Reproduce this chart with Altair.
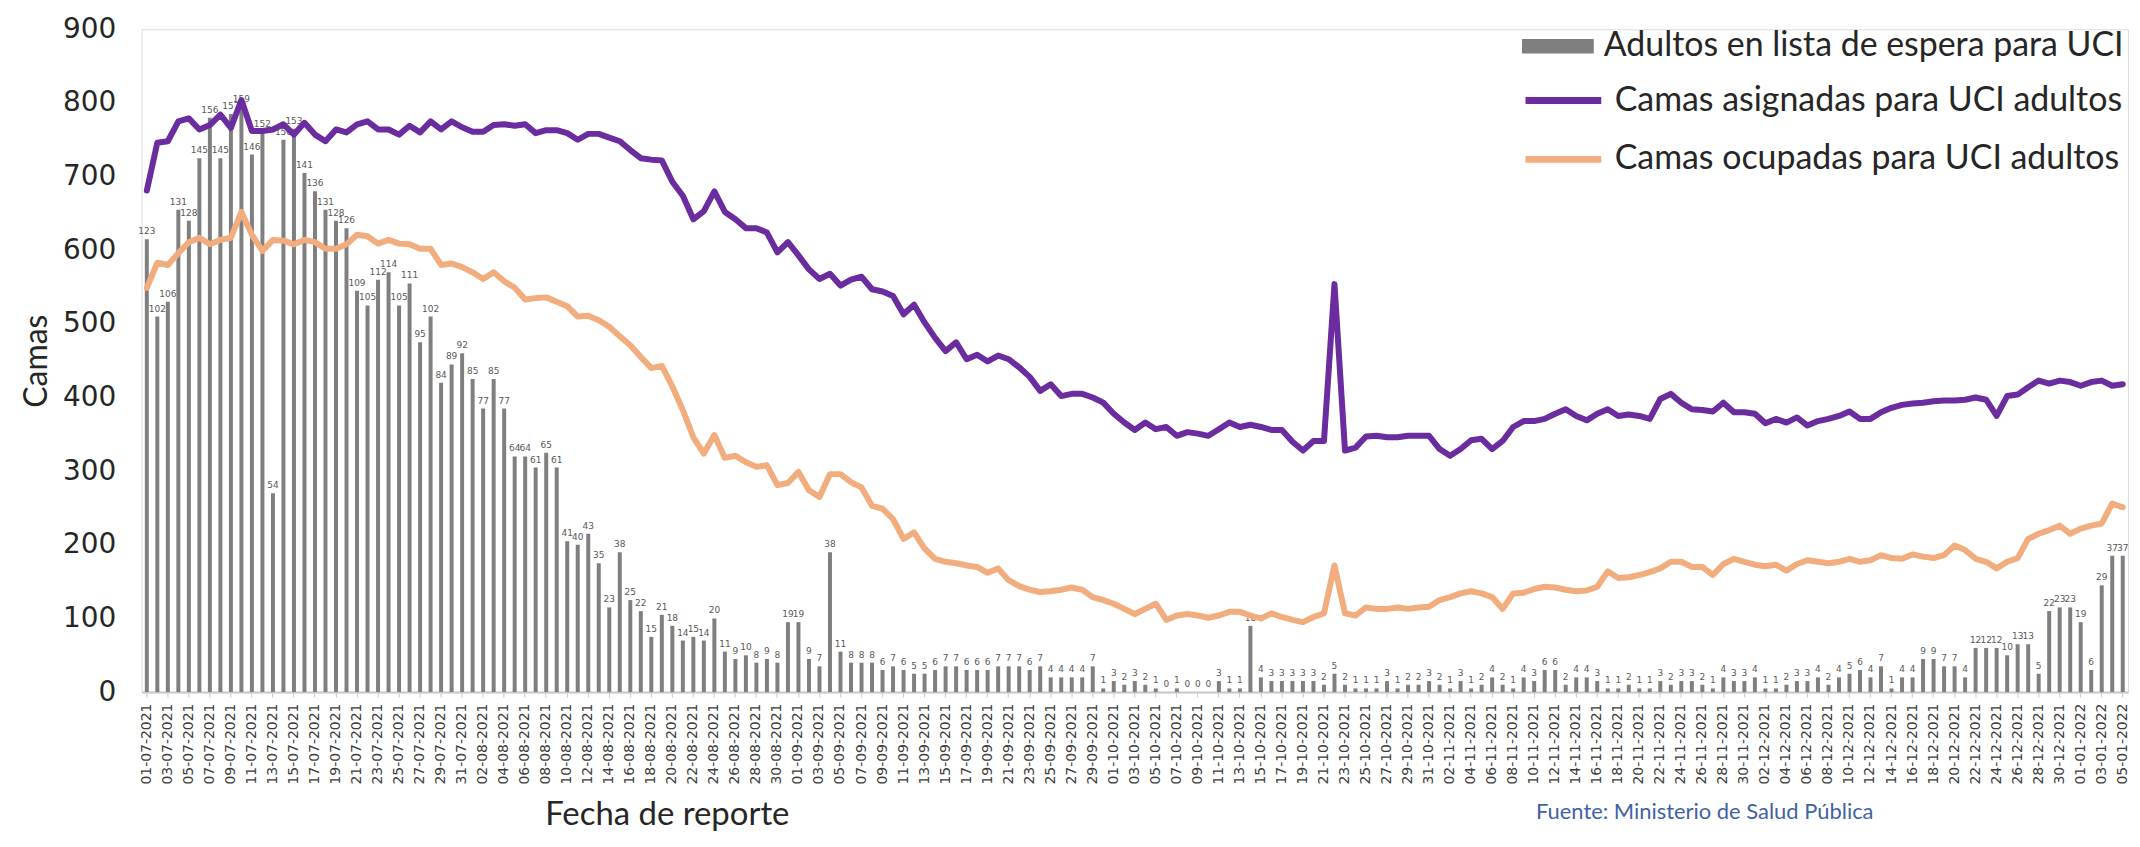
import altair as alt
import pandas as pd

fechas = [d.strftime("%d-%m-%Y") for d in pd.date_range("2021-07-01", "2022-01-05", freq="D")]

serie_espera = "Adultos en lista de espera para UCI"
serie_asig = "Camas asignadas para UCI adultos"
serie_ocup = "Camas ocupadas para UCI adultos"
fuente = ["Fuente: Ministerio de Salud Pública"]

espera = [
    123, 102, 106, 131, 128, 145, 156, 145, 157, 159, 146, 152, 54, 150, 153, 141, 136, 131, 128, 126,
    109, 105, 112, 114, 105, 111, 95, 102, 84, 89, 92, 85, 77, 85, 77, 64, 64, 61, 65, 61,
    41, 40, 43, 35, 23, 38, 25, 22, 15, 21, 18, 14, 15, 14, 20, 11, 9, 10, 8, 9,
    8, 19, 19, 9, 7, 38, 11, 8, 8, 8, 6, 7, 6, 5, 5, 6, 7, 7, 6, 6,
    6, 7, 7, 7, 6, 7, 4, 4, 4, 4, 7, 1, 3, 2, 3, 2, 1, 0, 1, 0,
    0, 0, 3, 1, 1, 18, 4, 3, 3, 3, 3, 3, 2, 5, 2, 1, 1, 1, 3, 1,
    2, 2, 3, 2, 1, 3, 1, 2, 4, 2, 1, 4, 3, 6, 6, 2, 4, 4, 3, 1,
    1, 2, 1, 1, 3, 2, 3, 3, 2, 1, 4, 3, 3, 4, 1, 1, 2, 3, 3, 4,
    2, 4, 5, 6, 4, 7, 1, 4, 4, 9, 9, 7, 7, 4, 12, 12, 12, 10, 13, 13,
    5, 22, 23, 23, 19, 6, 29, 37, 37,
]

asignadas = [
    681, 746, 748, 775, 779, 764, 770, 784, 766, 804,
    762, 762, 764, 771, 757, 773, 757, 748, 764, 760,
    771, 775, 764, 764, 757, 769, 760, 775, 764,
    775, 767, 761, 761, 770, 771, 769, 771, 759, 763, 763,
    759, 750, 758, 758, 753, 748, 736, 725, 723, 722,
    693, 674, 642, 653, 680, 652, 642, 630, 630, 624,
    597, 611, 593, 574, 561, 568, 552,
    560, 564, 547, 544, 538, 513, 526, 502, 481, 463, 475, 452, 458, 449, 457, 452, 441, 428, 409, 418,
    402, 405, 405, 400, 393, 378, 366, 356, 366, 357, 360, 348, 353, 351, 348, 357, 366, 360, 363, 360,
    356, 356, 340,
    328, 341, 341, 554, 328, 332, 347, 348, 346, 346, 348, 348, 348, 330, 321, 330, 342, 344, 330, 341,
    360, 368, 368, 371, 378, 384, 375, 369, 378, 384, 375, 377, 375, 371, 398, 405, 393, 384,
    383, 381, 393, 380, 380, 378, 365, 371, 366, 373, 362, 368, 371, 375, 381, 371, 371, 380, 386, 390,
    392, 393, 395, 396, 396, 397, 400, 397, 375, 402, 404, 414, 423, 419, 423, 421, 416, 421, 423, 416,
    418,
]

ocupadas = [
    549, 583, 580, 596, 611, 617, 608, 614, 617, 652, 621, 599, 614, 613, 608, 614, 611, 602, 602, 608,
    621, 619, 609, 614, 609, 608, 602, 602, 580, 582, 577, 570, 561, 570,
    558, 549, 533, 535, 536, 530, 524, 510, 511, 505, 496, 483, 471, 455, 440, 443,
    415, 383, 346, 324, 349, 318, 321, 312, 306, 308, 281, 284, 299, 274, 265, 296, 296,
    285, 278, 253, 249, 235, 208, 217, 195, 181, 177, 175, 172, 170, 162, 168, 152, 144, 139, 136, 137,
    139, 142, 139, 129, 125, 120, 113, 106, 113, 120, 98, 104, 106, 104, 101, 104, 109, 109, 104, 100,
    107, 102, 98,
    95, 102, 107, 172, 107, 104, 115, 113, 113, 115, 113, 115, 116, 125, 129, 134, 137, 134, 129, 113,
    134, 135, 140, 143, 142, 139, 137, 138, 143, 164, 155, 156, 159, 163, 168, 177, 177, 170,
    170, 159, 174, 181, 177, 173, 171, 173, 165, 174, 179, 177, 175, 177, 181, 177, 179, 186, 182, 181,
    187, 184, 182, 186, 199, 193, 181, 177, 168, 177, 182, 208, 215, 220, 226, 215, 222, 226, 229, 256,
    251,
]

assert len(fechas) == len(espera) == len(asignadas) == len(ocupadas) == 189

df_bar = pd.DataFrame({"fecha": fechas, "espera": espera, "serie": serie_espera})
df_line = pd.DataFrame({
    "fecha": fechas * 2,
    "valor": asignadas + ocupadas,
    "serie": [serie_asig] * len(fechas) + [serie_ocup] * len(fechas),
})

W, H = 1993, 665
purple = "#6a2c9e"
orange = "#f2ad7e"
gray = "#7f7f7f"
LEG_X = 1385

x_enc = alt.X(
    "fecha:O", sort=fechas,
    scale=alt.Scale(paddingInner=0, paddingOuter=0),
    axis=alt.Axis(
        values=fechas[::2], labelAngle=270, labelFont="DejaVu Sans", labelFontSize=14,
        labelColor="#3c3c3c", labelPadding=6, tickColor="#c8c8c8", tickSize=5,
        domainColor="#c8c8c8", domainWidth=2, grid=False,
        title="Fecha de reporte", titleFont="Lato", titleFontSize=33, titleFontWeight="normal",
        titleColor="#262626", titleX=527, titleY=107,
    ),
)

bars = alt.Chart(df_bar).mark_bar(size=4).encode(
    x=x_enc,
    y=alt.Y("espera:Q", scale=alt.Scale(domain=[0, 180]), axis=None),
    fill=alt.Fill("serie:N", scale=alt.Scale(domain=[serie_espera], range=[gray]),
                  legend=alt.Legend(title=None, orient="none", legendX=LEG_X, legendY=-19,
                                    symbolType="M-1,-0.2H1V0.2H-1Z", symbolSize=5184,
                                    symbolStrokeWidth=0, labelFont="Lato", labelFontSize=34,
                                    labelColor="#262626", labelOffset=10, labelLimit=0)),
)

labels = alt.Chart(df_bar).mark_text(dy=-8, fontSize=9, color="#595959", font="DejaVu Sans").encode(
    x=alt.X("fecha:O", sort=fechas),
    y=alt.Y("espera:Q", scale=alt.Scale(domain=[0, 180]), axis=None),
    text="espera:Q",
)

bar_layer = alt.layer(bars, labels)

lines = alt.Chart(df_line).mark_line(strokeWidth=6, strokeCap="round", strokeJoin="round").encode(
    x=alt.X("fecha:O", sort=fechas),
    y=alt.Y("valor:Q", scale=alt.Scale(domain=[0, 900]),
            axis=alt.Axis(values=list(range(0, 901, 100)), labelFont="DejaVu Sans", labelFontSize=28,
                          labelColor="#262626", labelPadding=26, ticks=False, domain=False,
                          gridDash=[10, 8], gridColor="#d4d4d4", gridWidth=1.5,
                          title="Camas", titleFont="Lato", titleFontSize=32, titleFontWeight="normal",
                          titleColor="#262626", titlePadding=9)),
    stroke=alt.Stroke("serie:N", scale=alt.Scale(domain=[serie_asig, serie_ocup], range=[purple, orange]),
                      legend=alt.Legend(title=None, orient="none", legendX=LEG_X, legendY=30,
                                        symbolType="stroke", symbolSize=5776, symbolStrokeWidth=7,
                                        labelFont="Lato", labelFontSize=34, labelColor="#262626",
                                        labelOffset=10, rowPadding=0, labelLimit=0)),
    detail="serie:N",
)

footer = alt.Chart(pd.DataFrame({"t": fuente})).mark_text(
    align="left", baseline="middle", font="Lato", fontSize=22, color="#3f62a6"
).encode(x=alt.value(1399), y=alt.value(H + 120), text="t:N")

chart = alt.layer(bar_layer, lines, footer).resolve_scale(y="independent").properties(
    width=W, height=H, padding={"left": 12, "top": 1, "right": 2, "bottom": 5}
).configure_view(stroke=None).configure(background="white")

chart.save("out.html", embed_options={"renderer": "svg", "actions": False})
